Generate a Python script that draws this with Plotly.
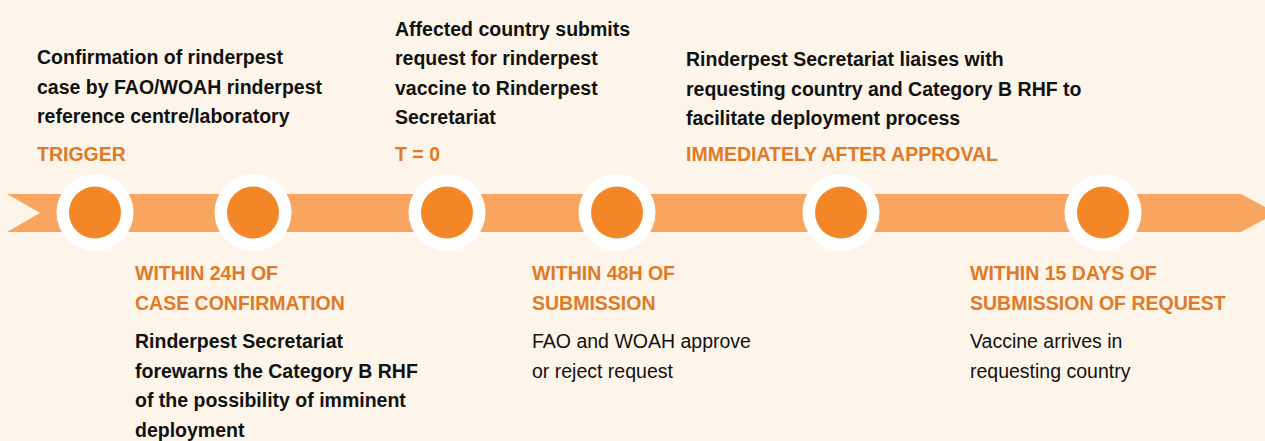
import plotly.graph_objects as go

# ---- data ----
milestone_x = [95, 253, 447, 617, 841, 1103]   # circle positions along the timeline (px scale)

top_texts = [
    ["Confirmation of rinderpest", "case by FAO/WOAH rinderpest", "reference centre/laboratory"],
    ["Affected country submits", "request for rinderpest", "vaccine to Rinderpest", "Secretariat"],
    ["Rinderpest Secretariat liaises with", "requesting country and Category B RHF to", "facilitate deployment process"],
]
top_labels = ["TRIGGER", "T = 0", "IMMEDIATELY AFTER APPROVAL"]

bottom_labels = [
    ["WITHIN 24H OF", "CASE CONFIRMATION"],
    ["WITHIN 48H OF", "SUBMISSION"],
    ["WITHIN 15 DAYS OF", "SUBMISSION OF REQUEST"],
]
bottom_texts = [
    ["Rinderpest Secretariat", "forewarns the Category B RHF", "of the possibility of imminent", "deployment"],
    ["FAO and WOAH approve", "or reject request"],
    ["Vaccine arrives in", "requesting country"],
]

# ---- layout / style ----
W, H = 1265, 441
BG = "#FEF5EA"
BAND = "#F8A65F"
DOT = "#F38627"
ORANGE = "#E07A27"
BLACK = "#111111"
FONT = "Liberation Sans, Arial, sans-serif"
FS = 19.5
LS = 29.5

band_top, band_bot, band_mid = 194, 232, 213

top_x = [35, 393, 684]
top_last_line_y = [116, 117, 118]
top_label_y = 154
bottom_x = [133, 530, 968]
bottom_label_y0 = 273
bottom_text_y0 = 341
bottom_bold = [True, False, False]

fig = go.Figure()

# band with notched tail and arrow head
bx = [7, 1241, 1276, 1241, 7, 40, 7]
by = [band_top, band_top, band_mid, band_bot, band_bot, band_mid, band_top]
fig.add_trace(go.Scatter(x=bx, y=by, mode="lines", fill="toself", fillcolor=BAND,
                         line=dict(width=0, color=BAND), hoverinfo="skip", showlegend=False))

# milestone circles
fig.add_trace(go.Scatter(x=milestone_x, y=[212.5] * len(milestone_x), mode="markers",
                         marker=dict(size=77, color="white", line=dict(width=0)),
                         hoverinfo="skip", showlegend=False))
fig.add_trace(go.Scatter(x=milestone_x, y=[212.5] * len(milestone_x), mode="markers",
                         marker=dict(size=52, color=DOT, line=dict(width=0)),
                         hoverinfo="skip", showlegend=False))

def add_line(x, y, text, color, bold):
    fig.add_annotation(x=x, y=y, xref="x", yref="y", text=text, showarrow=False,
                       xanchor="left", yanchor="middle",
                       font=dict(family=FONT, size=FS, color=color,
                                 weight="bold" if bold else "normal"))

for i, lines in enumerate(top_texts):
    n = len(lines)
    for j, t in enumerate(lines):
        add_line(top_x[i], top_last_line_y[i] - (n - 1 - j) * LS, t, BLACK, True)
    add_line(top_x[i], top_label_y, top_labels[i], ORANGE, True)

for i in range(3):
    for j, t in enumerate(bottom_labels[i]):
        add_line(bottom_x[i], bottom_label_y0 + j * LS, t, ORANGE, True)
    for j, t in enumerate(bottom_texts[i]):
        add_line(bottom_x[i], bottom_text_y0 + j * LS, t, BLACK, bottom_bold[i])

fig.update_layout(
    width=W, height=H, margin=dict(l=0, r=0, t=0, b=0),
    paper_bgcolor=BG, plot_bgcolor=BG, showlegend=False,
    xaxis=dict(range=[0, W], visible=False, fixedrange=True),
    yaxis=dict(range=[H, 0], visible=False, fixedrange=True),
)

fig.write_html("out.html", config={"displayModeBar": False},
               post_script="document.body.style.margin='0';document.body.style.background='%s';" % BG)
